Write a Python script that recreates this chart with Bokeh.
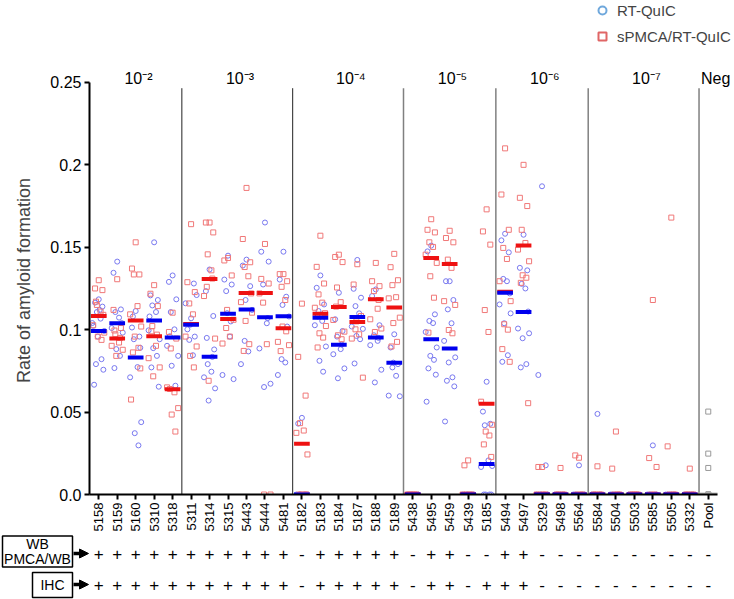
import math
from bokeh.plotting import figure
from bokeh.layouts import column, row
from bokeh.models import (Range1d, FixedTicker, Legend, LegendItem, Arrow, NormalHead)
from bokeh.core.properties import value
from bokeh.embed import file_html
from bokeh.resources import INLINE

# ---------------- data ----------------
categories = ["5158", "5159", "5160", "5310", "5318",
              "5311", "5314", "5315", "5443", "5444", "5481",
              "5182", "5183", "5184", "5187", "5188", "5189",
              "5438", "5495", "5459", "5439", "5185",
              "5494", "5497", "5329", "5498", "5564",
              "5584", "5504", "5503", "5585", "5505", "5332",
              "Pool"]

group_labels = ["10\u207b\u00b2", "10\u207b\u00b3", "10\u207b\u2074", "10\u207b\u2075",
                "10\u207b\u2076", "10\u207b\u2077", "Neg"]
group_sizes = [5, 6, 6, 5, 5, 6, 1]

row_names = ["WB\nPMCA/WB", "IHC"]
wb_row = ["+"] * 11 + ["-"] + ["+"] * 5 + ["-", "+", "+", "-", "-", "+", "+"] + ["-"] * 10
ihc_row = ["+"] * 11 + ["-"] + ["+"] * 5 + ["-", "+", "+", "-", "+", "+", "+"] + ["-"] * 10

# RT-QuIC (blue circles)
rtquic_points = {
    "5158": [0.1184, 0.1164, 0.114, 0.1107, 0.1067, 0.1023, 0.0992, 0.0958, 0.0821, 0.0791, 0.0757, 0.0666, 0.112, 0.104],
    "5159": [0.1413, 0.1345, 0.1123, 0.1107, 0.1073, 0.101, 0.0982, 0.0882, 0.0841, 0.0767, 0.104],
    "5160": [0.1113, 0.1013, 0.0958, 0.0942, 0.0773, 0.0711, 0.0439, 0.0372, 0.0298, 0.108, 0.089],
    "5310": [0.153, 0.1208, 0.118, 0.1147, 0.1107, 0.0996, 0.0942, 0.0888, 0.0841, 0.0771, 0.0654, 0.108],
    "5318": [0.1329, 0.129, 0.1184, 0.1107, 0.1002, 0.0902, 0.0841, 0.0781, 0.066, 0.096],
    "5311": [0.1069, 0.1002, 0.0958, 0.0938, 0.0845, 0.116, 0.121, 0.103, 0.128],
    "5314": [0.1365, 0.1234, 0.1083, 0.0791, 0.0745, 0.0711, 0.0644, 0.057, 0.0835, 0.095, 0.088],
    "5315": [0.1449, 0.1304, 0.1274, 0.1234, 0.0958, 0.0725, 0.07, 0.11, 0.105],
    "5443": [0.1425, 0.1389, 0.1264, 0.0932, 0.0868, 0.0791, 0.112, 0.118],
    "5444": [0.165, 0.1473, 0.1413, 0.1274, 0.1039, 0.0886, 0.0672, 0.0652, 0.107],
    "5481": [0.1473, 0.1304, 0.1019, 0.0821, 0.0801, 0.0725, 0.108, 0.115, 0.12],
    "5182": [0.0465, 0.043, 0, 0, 0, 0, 0, 0, 0, 0],
    "5183": [0.1329, 0.1254, 0.1153, 0.1113, 0.1053, 0.1027, 0.0898, 0.0811, 0.0745, 0.108],
    "5184": [0.1224, 0.1063, 0.0992, 0.0958, 0.0882, 0.0851, 0.0765, 0.0705, 0.091],
    "5187": [0.1423, 0.1248, 0.1194, 0.1143, 0.1099, 0.1019, 0.1005, 0.0962, 0.0942, 0.0795],
    "5188": [0.1244, 0.1204, 0.1027, 0.0966, 0.0932, 0.0906, 0.0757, 0.068, 0.095],
    "5189": [0.0972, 0.0892, 0.0791, 0.0771, 0.072, 0.06, 0.0596, 0.08],
    "5438": [0, 0, 0, 0, 0, 0, 0, 0],
    "5495": [0.151, 0.1475, 0.1093, 0.1053, 0.104, 0.0986, 0.0892, 0.0841, 0.0817, 0.0765, 0.0727, 0.0563],
    "5459": [0.1294, 0.1294, 0.118, 0.1123, 0.1039, 0.0932, 0.0832, 0.0801, 0.0711, 0.069, 0.0656, 0.0443],
    "5439": [0, 0, 0, 0, 0, 0, 0, 0],
    "5185": [0.0684, 0.0503, 0.0429, 0.042, 0.0207, 0.0167, 0.0173, 0, 0, 0, 0],
    "5494": [0.1582, 0.1542, 0.1469, 0.1308, 0.1294, 0.1153, 0.1099, 0.1039, 0.0845, 0.0805, 0.122],
    "5497": [0.1576, 0.1375, 0.136, 0.1278, 0.125, 0.1007, 0.0978, 0.0948, 0.0791, 0.0771, 0.111],
    "5329": [0.187, 0.0725, 0.0177, 0, 0, 0, 0, 0],
    "5498": [0, 0, 0, 0, 0, 0],
    "5564": [0.0177, 0, 0, 0, 0, 0, 0],
    "5584": [0.0489, 0, 0, 0, 0, 0],
    "5504": [0, 0, 0, 0, 0, 0],
    "5503": [0, 0, 0, 0, 0, 0],
    "5585": [0.0298, 0, 0, 0, 0, 0],
    "5505": [0, 0, 0, 0, 0, 0],
    "5332": [0, 0, 0, 0, 0, 0],
}

# sPMCA/RT-QuIC (red squares)
spmca_points = {
    "5158": [0.130, 0.125, 0.124, 0.115, 0.111, 0.1027, 0.0982, 0.0958, 0.0938, 0.117, 0.109],
    "5159": [0.1306, 0.112, 0.101, 0.0972, 0.0922, 0.0902, 0.0878, 0.0841, 0.095, 0.0995],
    "5160": [0.153, 0.1371, 0.1335, 0.1335, 0.1143, 0.1093, 0.1019, 0.0958, 0.089, 0.0862, 0.0765, 0.0576],
    "5310": [0.127, 0.1218, 0.1143, 0.1022, 0.0902, 0.0827, 0.0771, 0.0717, 0.097, 0.099],
    "5318": [0.1103, 0.0986, 0.0946, 0.0886, 0.062, 0.065, 0.0524, 0.0485, 0.0382, 0.064],
    "5311": [0.164, 0.1288, 0.1228, 0.1159, 0.1093, 0.0958, 0.0898, 0.0841, 0.0771],
    "5314": [0.165, 0.165, 0.159, 0.1457, 0.136, 0.1204, 0.0946, 0.069, 0.131, 0.126],
    "5315": [0.1435, 0.142, 0.1329, 0.101, 0.0958, 0.0916, 0.106, 0.112],
    "5443": [0.186, 0.155, 0.1409, 0.138, 0.1324, 0.1167, 0.1103, 0.1053, 0.0912, 0.0871, 0.122],
    "5444": [0.152, 0.1308, 0.128, 0.1164, 0.0912, 0.122, 0, 0],
    "5481": [0.1337, 0.1337, 0.1294, 0.126, 0.118, 0.0926, 0.0906, 0.1019, 0.099, 0.087],
    "5182": [0.1158, 0.0835, 0.06, 0.0433, 0.0388, 0.0374, 0.0243, 0, 0, 0, 0],
    "5183": [0.157, 0.1381, 0.128, 0.1214, 0.1164, 0.1133, 0.1022, 0.0978, 0.0952, 0.0892, 0.11],
    "5184": [0.1455, 0.1441, 0.141, 0.1256, 0.1167, 0.1059, 0.0988, 0.0966, 0.0942, 0.114],
    "5187": [0.1397, 0.1274, 0.1083, 0.1002, 0.0972, 0.0946, 0.0709, 0.105],
    "5188": [0.1405, 0.1294, 0.1264, 0.1234, 0.1127, 0.1063, 0.1007, 0.0986, 0.118],
    "5189": [0.146, 0.1379, 0.13, 0.127, 0.1197, 0.119, 0.1073, 0.104, 0.0926, 0.0898],
    "5438": [0, 0, 0, 0, 0, 0],
    "5495": [0.167, 0.1606, 0.159, 0.153, 0.1502, 0.1455, 0.1405, 0.1324, 0.1194, 0.0982],
    "5459": [0.16, 0.1556, 0.153, 0.1425, 0.1375, 0.1173, 0.115, 0.0998, 0.0978],
    "5439": [0.0207, 0.0177, 0, 0, 0, 0],
    "5185": [0.173, 0.1596, 0.1516, 0.1119, 0.0986, 0.0563, 0.0423, 0.0382, 0.0358, 0.0304, 0.0228],
    "5494": [0.21, 0.182, 0.1606, 0.1496, 0.1429, 0.1294, 0.1173, 0.1033, 0.1, 0.0882, 0.0805],
    "5497": [0.2, 0.18, 0.175, 0.1606, 0.1526, 0.1486, 0.1415, 0.133, 0.1315, 0.1284, 0.0554],
    "5329": [0.0167, 0.0167, 0, 0, 0, 0],
    "5498": [0.0161, 0, 0, 0, 0],
    "5564": [0.0223, 0.0237, 0, 0, 0],
    "5584": [0.0171, 0, 0, 0, 0],
    "5504": [0.0382, 0.0157, 0, 0, 0],
    "5503": [0, 0, 0, 0, 0],
    "5585": [0.118, 0.0221, 0.0167, 0, 0],
    "5505": [0.168, 0.0292, 0, 0, 0],
    "5332": [0.0157, 0, 0, 0, 0],
}

pool_points = [0.0503, 0.0248, 0.0161, 0, 0, 0]

rtquic_means = [0.0992, 0.1039, 0.0831, 0.1055, 0.0952,
                0.1030, 0.0835, 0.1097, 0.1123, 0.1075, 0.1081,
                0.0, 0.1073, 0.0908, 0.1077, 0.0952, 0.0799,
                0.0, 0.0942, 0.0886, 0.0, 0.0185,
                0.1224, 0.1107, 0.0, 0.0, 0.0,
                0.0, 0.0, 0.0, 0.0, 0.0, 0.0]
spmca_means = [0.1083, 0.0946, 0.1055, 0.0960, 0.0638,
               0.1035, 0.1308, 0.1065, 0.1222, 0.1222, 0.1008,
               0.0308, 0.1097, 0.1137, 0.1047, 0.1184, 0.1135,
               0.0, 0.1435, 0.1399, 0.0, 0.0550,
               0.1230, 0.1510, 0.0, 0.0, 0.0,
               0.0, 0.0, 0.0, 0.0, 0.0, 0.0]
pool_mean = 0.0

y_ticks = [0, 0.05, 0.1, 0.15, 0.2, 0.25]
y_tick_labels = ["0.0", "0.05", "0.1", "0.15", "0.2", "0.25"]

# ---------------- layout / styling constants ----------------
FONT = "Liberation Sans"
BLUE_PT = "#7878f0"
RED_PT = "#f07878"
BLUE_BAR = "#0000ee"
RED_BAR = "#ee1111"
JITTER = [0.0, -0.2, 0.2, -0.1, 0.1, -0.3, 0.3, -0.05, 0.15, -0.15, 0.25, -0.25, 0.05, -0.35]

FIG_W = 734
PLOT_LEFT = 89          # px of the y axis
N = len(categories)
PX_PER_CAT = 628 / N
TOP_H = 66              # legend strip
FRAME_H = 430           # main plot frame height (px)
PX_PER_UNIT = 1656      # px per 1.0 of rate
AXIS_H = 38             # x tick label panel
TABLE_H = 65

x_end = -0.5 + (FIG_W - PLOT_LEFT) / PX_PER_CAT
shared_x = Range1d(-0.5, x_end)
idx = {c: i for i, c in enumerate(categories)}


def flatten(series):
    xs, ys = [], []
    for cat, vals in series.items():
        for k, v in enumerate(vals):
            xs.append(idx[cat] + JITTER[k % len(JITTER)])
            ys.append(v)
    return xs, ys


def bare(fig):
    fig.outline_line_color = None
    fig.grid.visible = False
    fig.background_fill_color = "white"
    fig.border_fill_color = "white"


# ---------------- top strip: legend ----------------
top = figure(width=FIG_W, height=TOP_H, output_backend="svg", toolbar_location=None,
             x_range=shared_x, y_range=Range1d(0, 1), x_axis_location=None,
             y_axis_location=None, min_border_left=PLOT_LEFT, min_border_right=0,
             min_border_top=0, min_border_bottom=0, title=None)
bare(top)
nan = float("nan")
lg1 = top.scatter(x=[nan], y=[nan], marker="circle", fill_color=None,
                  line_color="#6fa8dc", line_width=2)
lg2 = top.scatter(x=[nan], y=[nan], marker="square", fill_color=None,
                  line_color="#e06666", line_width=2)
legend = Legend(items=[LegendItem(label="RT-QuIC", renderers=[lg1]),
                       LegendItem(label="sPMCA/RT-QuIC", renderers=[lg2])],
                location=(502, TOP_H - 46), glyph_width=22, glyph_height=20, label_height=20,
                spacing=6, padding=0, margin=0, label_standoff=4,
                label_text_font=FONT, label_text_font_size="15px",
                border_line_color=None, background_fill_alpha=0)
top.add_layout(legend, "center")

# ---------------- main plot ----------------
p = figure(width=FIG_W, height=FRAME_H + AXIS_H, output_backend="svg", toolbar_location=None,
           x_range=shared_x, y_range=Range1d(0, FRAME_H / PX_PER_UNIT),
           min_border_left=PLOT_LEFT, min_border_right=0, min_border_top=0,
           min_border_bottom=AXIS_H, title=None)
bare(p)

p.xaxis.ticker = FixedTicker(ticks=list(range(N)))
p.xaxis.major_label_overrides = {i: c for i, c in enumerate(categories)}
p.xaxis.major_label_orientation = math.pi / 2
p.xaxis.major_label_text_font = FONT
p.xaxis.major_label_text_font_size = "13px"
p.xaxis.major_label_text_color = "black"
p.xaxis.major_label_standoff = 3
p.xaxis.bounds = (-0.5, N - 0.5)

p.yaxis.ticker = FixedTicker(ticks=y_ticks)
p.yaxis.major_label_overrides = {t: l for t, l in zip(y_ticks, y_tick_labels)}
p.yaxis.bounds = (0, 0.25)
p.yaxis.major_label_text_font = FONT
p.yaxis.major_label_text_font_size = "16px"
p.yaxis.major_label_text_color = "black"
p.yaxis.major_label_standoff = 3
p.yaxis.axis_label = "Rate of amyloid formation"
p.yaxis.axis_label_text_font = FONT
p.yaxis.axis_label_text_font_size = "18px"
p.yaxis.axis_label_text_font_style = "normal"
p.yaxis.axis_label_standoff = 13

for ax in (p.xaxis, p.yaxis):
    ax.axis_line_width = 2
    ax.axis_line_color = "black"
    ax.major_tick_line_width = 2
    ax.major_tick_line_color = "black"
    ax.major_tick_in = 0
    ax.major_tick_out = 5
    ax.minor_tick_line_color = None

# group dividers and labels
starts = [sum(group_sizes[:g]) for g in range(len(group_sizes))]
div_x = [s - 0.5 for s in starts[1:]]
div_colors = ["#222222", "#222222", "#808080", "#808080", "#808080", "#808080"]
div_widths = [1, 1, 1.5, 1.5, 1.5, 1.5]
p.segment(x0=div_x, y0=[0] * len(div_x), x1=div_x, y1=[0.2465] * len(div_x),
          line_color=div_colors, line_width=div_widths)

grp_x = [s + (sz - 1) / 2 for s, sz in zip(starts, group_sizes)]
grp_x = [gx + 0.15 for gx in grp_x[:-1]] + [grp_x[-1] + 0.4]
p.text(x=grp_x, y=[0.2524] * len(grp_x), text=group_labels, text_align="center",
       text_baseline="middle", text_font=value(FONT), text_font_size="16px", text_color="black")

# individual points
bx, by = flatten(rtquic_points)
rx, ry = flatten(spmca_points)
p.scatter(x=bx, y=by, marker="circle", size=5, fill_color=None, line_color=BLUE_PT, line_width=1)
p.scatter(x=rx, y=ry, marker="square", size=5, fill_color=None, line_color=RED_PT, line_width=1)
p.scatter(x=[idx["Pool"]] * len(pool_points), y=pool_points, marker="square", size=5,
          fill_color=None, line_color="#999999", line_width=1)

# mean bars
bar_x = list(range(len(rtquic_means)))
p.rect(x=bar_x, y=spmca_means, width=0.85, height=4, height_units="screen",
       fill_color=RED_BAR, line_color=None)
p.rect(x=bar_x, y=rtquic_means, width=0.85, height=4, height_units="screen",
       fill_color=BLUE_BAR, line_color=None)
p.rect(x=[idx["Pool"]], y=[pool_mean], width=1.0, height=4, height_units="screen",
       fill_color="#bbbbbb", line_color=None)

# ---------------- bottom table ----------------
# left part: row headings (pixel coordinates)
hd = figure(width=PLOT_LEFT, height=TABLE_H, output_backend="svg", toolbar_location=None,
            x_range=Range1d(0, PLOT_LEFT), y_range=Range1d(0, TABLE_H),
            x_axis_location=None, y_axis_location=None, min_border_left=0,
            min_border_right=0, min_border_top=0, min_border_bottom=0, title=None)
bare(hd)
ROW_Y = [46, 15]
hd.rect(x=[37, 52], y=[48, 14.5], width=[70, 40], height=[31, 25],
        fill_color=None, line_color="black", line_width=1.5)
head_lines = row_names[0].split("\n") + [row_names[1]]
hd.text(x=[37, 37, 52], y=[56, 41, 14.5], text=head_lines, text_align="center",
        text_baseline="middle", text_font=value(FONT), text_font_size="14px", text_color="black")
for yy in ROW_Y:
    hd.add_layout(Arrow(x_start=73, y_start=yy, x_end=88, y_end=yy,
                        line_width=3.5, line_color="black",
                        end=NormalHead(size=9, fill_color="black", line_color="black")))

# right part: +/- per category
t = figure(width=FIG_W - PLOT_LEFT, height=TABLE_H, output_backend="svg", toolbar_location=None,
           x_range=shared_x, y_range=Range1d(0, TABLE_H),
           x_axis_location=None, y_axis_location=None, min_border_left=0,
           min_border_right=0, min_border_top=0, min_border_bottom=0, title=None)
bare(t)
for row_vals, yy in zip([wb_row, ihc_row], ROW_Y):
    t.text(x=list(range(N)), y=[yy] * N, text=row_vals, text_align="center",
           text_baseline="middle", text_font=value(FONT), text_font_size="17px",
           text_color="black")

layout = column(top, p, row(hd, t, spacing=0), spacing=0)
open("out.html", "w").write(file_html(layout, INLINE))
